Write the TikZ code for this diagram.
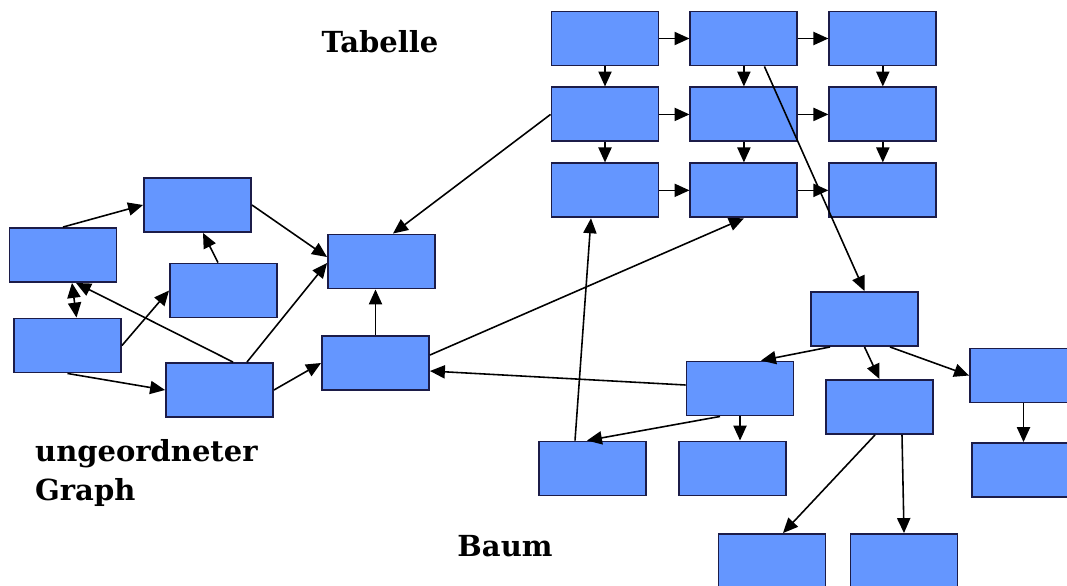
\documentclass[tikz,border=0pt]{standalone}
\usepackage{fontspec}
\setmainfont{DejaVu Serif}
\usetikzlibrary
  {
    arrows.meta,  % triangle arrow heads
    positioning,  % place nodes relative to other nodes
  }
\definecolor{feldblau}{RGB}{100,150,255}
\definecolor{randblau}{RGB}{28,28,72}

\begin{document}
\begin{tikzpicture}
    [
      x=0.02cm, y=-0.02cm,
      node distance=0.4cm and 0.6cm,
      kasten/.style=
        {
          rectangle,
          minimum width=2.14cm,
          minimum height=1.08cm,
          inner sep=0pt,
          line width=1.1pt,
          draw=randblau,
          fill=feldblau,
        },
      pfeil/.style=
        {
          -{Triangle[length=8.5pt,width=7.5pt]},
          line width=0.9pt,
        },
      doppelpfeil/.style=
        {
          {Triangle[length=8.5pt,width=7.5pt]}-{Triangle[length=8.5pt,width=7.5pt]},
          line width=0.9pt,
        },
      titel/.style=
        {
          font=\bfseries\fontsize{16.5}{22.5}\selectfont,
          align=left,
        }
    ]
    \useasboundingbox (0,0) rectangle (1067,585);

    % ungeordneter Graph
    \node (A) [kasten] at (63,255) {};
    \node (B) [kasten] at (197.5,205) {};
    \node (C) [kasten] at (223.5,290.5) {};
    \node (D) [kasten] at (67.5,345.5) {};
    \node (E) [kasten] at (219.5,390) {};
    \node (F) [kasten] at (381.5,261.5) {};
    \node (G) [kasten] at (375.5,363) {};

    % Tabelle, 3x3
    \node (t11) [kasten] at (605,38.5) {};
    \node (t12) [kasten, right=of t11] {};
    \node (t13) [kasten, right=of t12] {};
    \node (t21) [kasten, below=of t11] {};
    \node (t22) [kasten, right=of t21] {};
    \node (t23) [kasten, right=of t22] {};
    \node (t31) [kasten, below=of t21] {};
    \node (t32) [kasten, right=of t31] {};
    \node (t33) [kasten, right=of t32] {};

    % Baum
    \node (R) [kasten] at (864.5,319) {};
    \node (M) [kasten] at (740,388.5) {};
    \node (N) [kasten] at (879.5,407) {};
    \node (P) [kasten] at (1023.5,375.5) {};
    \node (Q) [kasten] at (592.5,468.5) {};
    \node (S) [kasten] at (732.5,468.5) {};
    \node (T) [kasten] at (772,561) {};
    \node (U) [kasten] at (904,561) {};
    \node (P2) [kasten] at (1025.5,470) {};

    \node (tabelle) [titel] at (380,42) {Tabelle};
    \node (graph) [titel, anchor=north west] at (29,433) {ungeordneter\\Graph};
    \node (baum) [titel] at (505,546) {Baum};

    % Kanten im Graph
    \draw [pfeil] (A.north) -- (B.west);
    \draw [pfeil] ([xshift=-0.11cm]C.north) -- ([xshift=0.11cm]B.south);
    \draw [pfeil] (B.east) -- ([yshift=0.09cm]F.west);
    \draw [doppelpfeil] ([xshift=0.18cm]A.south) -- ([xshift=0.18cm]D.north);
    \draw [pfeil] (D.east) -- (C.west);
    \draw [pfeil] (D.south) -- (E.west);
    \draw [pfeil] ([xshift=0.27cm]E.north) -- ([xshift=0.26cm]A.south);
    \draw [pfeil] ([xshift=0.55cm]E.north) -- ([yshift=-0.03cm]F.west);
    \draw [pfeil] (E.east) -- (G.west);
    \draw [pfeil] (G.north) -- (G.north |- F.south);

    % Tabelle: Zeilen und Spalten
    \foreach \i in {1,2,3}
      {
        \draw [pfeil] (t\i1.east) -- (t\i2.west);
        \draw [pfeil] (t\i2.east) -- (t\i3.west);
      }
    \foreach \j in {1,2,3}
      {
        \draw [pfeil] (t1\j.south) -- (t2\j.north);
        \draw [pfeil] (t2\j.south) -- (t3\j.north);
      }

    % Verbindungen zwischen den Teilen
    \draw [pfeil] (t21.west) -- ([xshift=0.23cm]F.north);
    \draw [pfeil] ([yshift=0.16cm]G.east) -- (t32.south);
    \draw [pfeil] ([yshift=0.07cm]M.west) -- ([yshift=-0.16cm]G.east);
    \draw [pfeil] ([xshift=0.41cm]t12.south) -- (R.north);
    \draw [pfeil] ([xshift=-0.35cm]Q.north) -- ([xshift=-0.28cm]t31.south);

    % Kanten im Baum
    \draw [pfeil] ([xshift=-0.69cm]R.south) -- ([xshift=0.42cm]M.north);
    \draw [pfeil] (R.south) -- (N.north);
    \draw [pfeil] ([xshift=0.51cm]R.south) -- (P.west);
    \draw [pfeil] (P.south) -- (P.south |- P2.north);
    \draw [pfeil] ([xshift=-0.4cm]M.south) -- ([xshift=-0.11cm]Q.north);
    \draw [pfeil] (M.south) -- (M.south |- S.north);
    \draw [pfeil] ([xshift=-0.09cm]N.south) -- ([xshift=0.22cm]T.north);
    \draw [pfeil] ([xshift=0.45cm]N.south) -- (U.north);
\end{tikzpicture}
\end{document}
